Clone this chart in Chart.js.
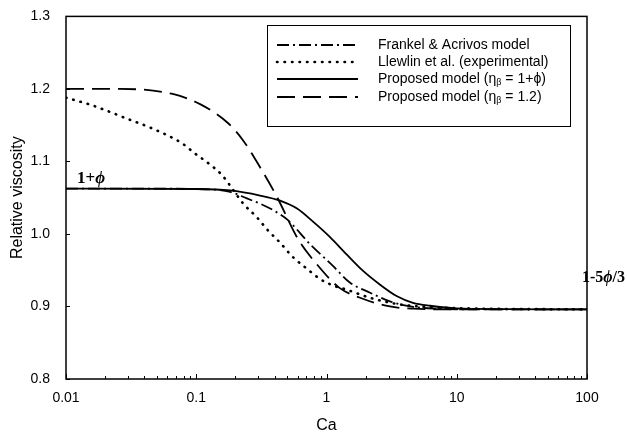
<!DOCTYPE html>
<html>
<head>
<meta charset="utf-8">
<title>Relative viscosity vs Ca</title>
<script src="https://cdn.jsdelivr.net/npm/chart.js@4.4.1/dist/chart.umd.min.js"></script>
<style>
  html, body { margin: 0; padding: 0; background: #fff; }
  canvas { display: block; }
</style>
</head>
<body>
<canvas id="chart" width="627" height="436"></canvas>
<script>
// Values (Ca on a log axis, relative viscosity)
const caFrankel = [0.01, 0.03, 0.1, 0.182, 0.245, 0.325, 0.388, 0.506, 0.746, 1.12, 1.51, 2.16, 3.07, 4.38, 7.05, 15, 100];
const muFrankel = [1.0625, 1.0625, 1.062, 1.058, 1.049, 1.040, 1.033, 1.019, 0.986, 0.956, 0.933, 0.919, 0.907, 0.900, 0.897, 0.896, 0.896];

const caLlewellin = [0.01, 0.0161, 0.0294, 0.0466, 0.0778, 0.0977, 0.125, 0.158, 0.19, 0.229, 0.292, 0.355, 0.440, 0.553, 0.708, 0.891, 1.12, 1.44, 2.16, 3.6, 8.8, 100];
const muLlewellin = [1.188, 1.177, 1.159, 1.145, 1.125, 1.111, 1.097, 1.081, 1.062, 1.042, 1.023, 1.005, 0.988, 0.968, 0.952, 0.938, 0.929, 0.923, 0.912, 0.903, 0.898, 0.896];

const caProposed = [0.01, 0.1, 0.182, 0.309, 0.440, 0.594, 0.788, 1.06, 1.44, 1.91, 2.58, 3.48, 4.61, 6.23, 11.2, 100];
const muProposed = [1.0625, 1.062, 1.060, 1.053, 1.046, 1.035, 1.017, 0.996, 0.971, 0.949, 0.930, 0.914, 0.905, 0.901, 0.897, 0.896];

const caProposed12 = [0.01, 0.026, 0.066, 0.107, 0.175, 0.229, 0.309, 0.417, 0.604, 0.845, 1.25, 1.81, 3.07, 4.62, 10, 100];
const muProposed12 = [1.200, 1.200, 1.193, 1.179, 1.153, 1.129, 1.092, 1.051, 0.993, 0.958, 0.926, 0.912, 0.900, 0.897, 0.896, 0.896];

const xTickValues = [0.01, 0.1, 1, 10, 100];
const xTickLabels = ['0.01', '0.1', '1', '10', '100'];
const yTickValues = [0.8, 0.9, 1.0, 1.1, 1.2, 1.3];
const yTickLabels = ['0.8', '0.9', '1.0', '1.1', '1.2', '1.3'];

const legendLabels = [
    ['Frankel & Acrivos model'],
    ['Llewlin et al. (experimental)'],
    ['Proposed model (η', 'β', ' = 1+ϕ)'],
    ['Proposed model (η', 'β', ' = 1.2)']
];

const SANS = '"Liberation Sans", Arial, sans-serif';
const SERIF = '"Liberation Serif", "Times New Roman", serif';

Chart.defaults.font.family = SANS;
Chart.defaults.color = '#000';

function toPoints(xs, ys) {
    return xs.map((x, i) => ({ x: x, y: ys[i] }));
}

function lineSet(label, xs, ys, dash, width) {
    return {
        label: label,
        data: toPoints(xs, ys),
        borderColor: '#000',
        backgroundColor: '#000',
        borderWidth: width,
        borderDash: dash,
        borderCapStyle: dash.length === 2 && dash[0] < 2 ? 'round' : 'butt',
        pointRadius: 0,
        cubicInterpolationMode: 'monotone',
        fill: false
    };
}

// frame, inward tick marks, legend box and the two limit labels
const decorPlugin = {
    id: 'decor',
    afterDatasetsDraw(chart) {
        const ctx = chart.ctx;
        const area = chart.chartArea;
        const xs = chart.scales.x;
        const ys = chart.scales.y;

        ctx.save();
        ctx.strokeStyle = '#000';
        ctx.lineWidth = 1.5;
        ctx.setLineDash([]);
        ctx.strokeRect(area.left, area.top, area.right - area.left, area.bottom - area.top);

        // x ticks: decades and minor log ticks
        ctx.lineWidth = 1;
        ctx.beginPath();
        for (let i = 0; i < xTickValues.length; i++) {
            const d = xTickValues[i];
            const px = Math.round(xs.getPixelForValue(d)) + 0.5;
            ctx.moveTo(px, area.bottom);
            ctx.lineTo(px, area.bottom - 5);
            if (i < xTickValues.length - 1) {
                for (let k = 2; k <= 9; k++) {
                    const mx = Math.round(xs.getPixelForValue(d * k)) + 0.5;
                    ctx.moveTo(mx, area.bottom);
                    ctx.lineTo(mx, area.bottom - 3);
                }
            }
        }
        yTickValues.forEach(v => {
            const py = Math.round(ys.getPixelForValue(v)) + 0.5;
            ctx.moveTo(area.left, py);
            ctx.lineTo(area.left + 4, py);
        });
        ctx.stroke();

        // legend
        const box = { left: 267, top: 25, right: 570, bottom: 126 };
        ctx.fillStyle = '#fff';
        ctx.fillRect(box.left, box.top, box.right - box.left, box.bottom - box.top);
        ctx.lineWidth = 1;
        ctx.strokeRect(box.left + 0.5, box.top + 0.5, box.right - box.left, box.bottom - box.top);

        const rows = [45, 62, 79, 97];
        chart.data.datasets.forEach((ds, i) => {
            const y = rows[i];
            ctx.save();
            ctx.strokeStyle = '#000';
            ctx.lineWidth = ds.borderWidth;
            ctx.setLineDash(ds.borderDash);
            ctx.lineCap = ds.borderCapStyle;
            ctx.beginPath();
            ctx.moveTo(277, y);
            ctx.lineTo(358, y);
            ctx.stroke();
            ctx.restore();

            const parts = legendLabels[i];
            ctx.fillStyle = '#000';
            ctx.textBaseline = 'middle';
            ctx.textAlign = 'left';
            let x = 378;
            ctx.font = '14px ' + SANS;
            ctx.fillText(parts[0], x, y);
            x += ctx.measureText(parts[0]).width;
            if (parts.length > 1) {
                ctx.font = '9px ' + SANS;
                ctx.fillText(parts[1], x, y + 4);
                x += ctx.measureText(parts[1]).width;
                ctx.font = '14px ' + SANS;
                ctx.fillText(parts[2], x, y);
            }
        });

        // limit labels
        ctx.fillStyle = '#000';
        ctx.textBaseline = 'alphabetic';
        ctx.textAlign = 'left';
        let lx = 77;
        ctx.font = 'bold 17px ' + SERIF;
        ctx.fillText('1+', lx, 183);
        lx += ctx.measureText('1+').width;
        ctx.font = 'bold italic 17px ' + SERIF;
        ctx.fillText('ϕ', lx, 183);

        lx = 582;
        ctx.font = 'bold 16px ' + SERIF;
        ctx.fillText('1-5', lx, 282);
        lx += ctx.measureText('1-5').width;
        ctx.font = 'bold italic 16px ' + SERIF;
        ctx.fillText('ϕ', lx, 282);
        lx += ctx.measureText('ϕ').width;
        ctx.font = 'bold 16px ' + SERIF;
        ctx.fillText('/3', lx, 282);

        ctx.restore();
    }
};

new Chart(document.getElementById('chart'), {
    type: 'line',
    data: {
        datasets: [
            lineSet('Frankel & Acrivos model', caFrankel, muFrankel, [12, 4, 2, 4], 1.8),
            lineSet('Llewlin et al. (experimental)', caLlewellin, muLlewellin, [0.5, 7], 2.6),
            lineSet('Proposed model (ηβ = 1+ϕ)', caProposed, muProposed, [], 1.8),
            lineSet('Proposed model (ηβ = 1.2)', caProposed12, muProposed12, [18, 8], 1.8)
        ]
    },
    options: {
        responsive: false,
        animation: false,
        layout: { padding: { top: 15, right: 40, left: 0, bottom: 0 } },
        plugins: {
            legend: { display: false },
            tooltip: { enabled: false }
        },
        scales: {
            x: {
                type: 'logarithmic',
                min: 0.01,
                max: 100,
                grid: { display: false },
                border: { display: false },
                ticks: {
                    font: { size: 14 },
                    color: '#000',
                    padding: 3,
                    maxRotation: 0,
                    autoSkip: false,
                    callback: (v, i) => xTickLabels[i]
                },
                afterBuildTicks: s => { s.ticks = xTickValues.map(v => ({ value: v })); },
                afterFit: s => { s.height = 57; },
                title: {
                    display: true,
                    text: 'Ca',
                    font: { size: 16 },
                    color: '#000',
                    padding: { top: 0, bottom: 1 }
                }
            },
            y: {
                type: 'linear',
                min: 0.8,
                max: 1.3,
                grid: { display: false },
                border: { display: false },
                ticks: {
                    font: { size: 14 },
                    color: '#000',
                    padding: 8,
                    callback: (v, i) => yTickLabels[i]
                },
                afterBuildTicks: s => { s.ticks = yTickValues.map(v => ({ value: v })); },
                afterFit: s => { s.width = 66; },
                title: {
                    display: true,
                    text: 'Relative viscosity',
                    font: { size: 16 },
                    color: '#000',
                    padding: { top: 8, bottom: 0 }
                }
            }
        }
    },
    plugins: [decorPlugin]
});
</script>
</body>
</html>
